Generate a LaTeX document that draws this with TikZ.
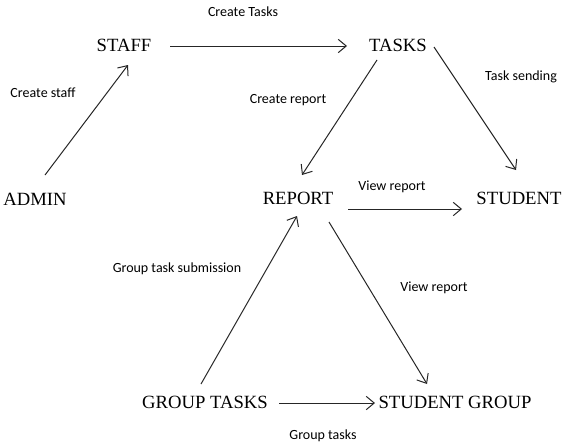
\documentclass[tikz,border=0pt]{standalone}
\usepackage{fontspec}
\setmainfont{Liberation Serif}
\newfontfamily\lblfont{Carlito}
\usetikzlibrary{arrows.meta,calc}
\begin{document}
\begin{tikzpicture}[x=0.75pt,y=-0.75pt,
  ent/.style={inner sep=0pt,font=\fontsize{14}{15}\selectfont},
  lbl/.style={inner sep=0pt,font=\lblfont\fontsize{10.5}{12}\selectfont},
  conn/.style={draw=black!85,line width=0.75pt,-{Straight Barb[length=6pt,width=10pt]}}]
\useasboundingbox (0,0) rectangle (570,446);
\node[ent] (staff) at (124,45) {STAFF};
\node[ent] (tasks) at (398,45) {TASKS};
\node[ent] (admin) at (35,199) {ADMIN};
\node[ent] (report) at (298,198) {REPORT};
\node[ent] (student) at (519,198) {STUDENT};
\node[ent] (gt) at (205,402) {GROUP TASKS};
\node[ent] (sg) at (455,402) {STUDENT GROUP};
\node[lbl] (l1) at (243,12) {Create Tasks};
\node[lbl] (l2) at (43,93) {Create staff};
\node[lbl] (l3) at (288,100) {Create report};
\node[lbl] (l4) at (521,77) {Task sending};
\node[lbl] (l5) at (392,187) {View report};
\node[lbl] (l6) at (434,288) {View report};
\node[lbl] (l7) at (177,269) {Group task submission};
\node[lbl] (l8) at (323,436) {Group tasks};
\draw[conn] ($(admin)+(10,-24)$) -- ($(staff)+(4,20)$);
\draw[conn] ($(staff)+(46,1)$) -- ($(tasks)+(-51,1)$);
\draw[conn] ($(tasks)+(-21,15)$) -- ($(report)+(4,-23)$);
\draw[conn] ($(tasks)+(36,2)$) -- ($(student)+(-3,-28)$);
\draw[conn] ($(report)+(50,11)$) -- ($(student)+(-57,11)$);
\draw[conn] ($(gt)+(-4,-18)$) -- ($(report)+(-1,18)$);
\draw[conn] ($(report)+(31,24)$) -- ($(sg)+(-28,-18)$);
\draw[conn] ($(gt)+(74,1)$) -- ($(sg)+(-80,1)$);
\end{tikzpicture}
\end{document}
